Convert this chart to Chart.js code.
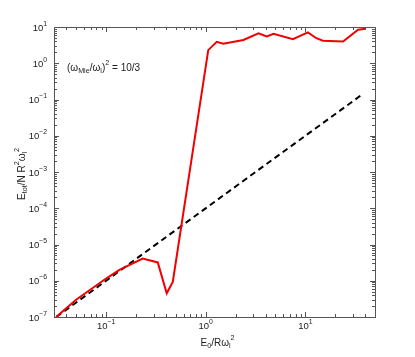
<!DOCTYPE html>
<html>
<head>
<meta charset="utf-8">
<script src="https://cdn.jsdelivr.net/npm/chart.js@4/dist/chart.umd.min.js"></script>
<style>
  body { margin: 0; background: #fff; }
  #wrap { width: 415px; height: 357px; }
</style>
</head>
<body>
<div id="wrap"><canvas id="c" width="415" height="357"></canvas></div>
<script>
// red curve: E0/R w^2 vs Etot
var red_x = [0.0315, 0.05, 0.1, 0.136, 0.233, 0.33, 0.406, 0.467, 1.06, 1.29, 1.50, 2.39, 3.38, 4.1, 4.8, 7.5, 10.6, 12.9, 15, 23.9, 33.8, 40.5];
var red_y = [1e-7, 3.0e-7, 1.15e-6, 2e-6, 4.1e-6, 3.2e-6, 4.5e-7, 9.3e-7, 2.3, 3.9, 3.47, 4.4, 6.7, 5.5, 6.5, 4.6, 7.1, 4.9, 4.2, 4.0, 8.4, 9.0];
// dashed reference line (end points)
var dash_x = [0.0316, 38];
var dash_y = [1e-7, 0.144];

var x_decades = [-1, 0, 1];
var y_decades = [1, 0, -1, -2, -3, -4, -5, -6, -7];

function pts(xs, ys){
    var out = [];
    for(var i = 0; i < xs.length; i++){
        out.push({x: xs[i], y: ys[i]});
    }
    return out;
}

var FONT = '"Liberation Sans", Arial, sans-serif';

// draw text with sub/superscripts, parts = [[text, 'n'|'b'|'p'], ...]
function richWidth(ctx, parts, size){
    var w = 0;
    parts.forEach(function(p){
        ctx.font = (p[1] == 'n' ? size : size * 0.72) + 'px ' + FONT;
        w += ctx.measureText(p[0]).width;
    });
    return w;
}
function richText(ctx, parts, x, y, size){
    var cx = x;
    parts.forEach(function(p){
        var off = 0, s = size;
        if(p[1] == 'b'){ s = size * 0.72; off = size * 0.3; }
        if(p[1] == 'p'){ s = size * 0.72; off = -size * 0.45; }
        ctx.font = s + 'px ' + FONT;
        ctx.textBaseline = 'middle';
        ctx.textAlign = 'left';
        ctx.fillText(p[0], cx, y + off);
        cx += ctx.measureText(p[0]).width;
    });
}

var framePlugin = {
    id: 'frame',
    afterDraw: function(chart){
        var ctx = chart.ctx;
        var a = chart.chartArea;
        var xs = chart.scales.x, ys = chart.scales.y;
        ctx.save();
        ctx.strokeStyle = '#555';
        ctx.fillStyle = '#222';
        ctx.lineWidth = 1;
        ctx.strokeRect(a.left + 0.5, a.top + 0.5, a.right - a.left, a.bottom - a.top);

        // ticks inward on all sides
        ctx.beginPath();
        for(var d = -2; d <= 1; d++){
            for(var m = 1; m <= 9; m++){
                var v = m * Math.pow(10, d);
                if(v < xs.min || v > xs.max) continue;
                var px = Math.round(xs.getPixelForValue(v)) + 0.5;
                var len = m == 1 ? 5 : 3;
                ctx.moveTo(px, a.bottom); ctx.lineTo(px, a.bottom - len);
                ctx.moveTo(px, a.top); ctx.lineTo(px, a.top + len);
            }
        }
        for(var d = -7; d <= 1; d++){
            for(var m = 1; m <= 9; m++){
                var v = m * Math.pow(10, d);
                if(v < ys.min * 0.999 || v > ys.max * 1.001) continue;
                var py = Math.round(ys.getPixelForValue(v)) + 0.5;
                var len = m == 1 ? 5 : 3;
                ctx.moveTo(a.left, py); ctx.lineTo(a.left + len, py);
                ctx.moveTo(a.right, py); ctx.lineTo(a.right - len, py);
            }
        }
        ctx.stroke();

        // tick labels
        var fs = 9.5;
        x_decades.forEach(function(d){
            var px = xs.getPixelForValue(Math.pow(10, d));
            var parts = [['10', 'n'], [String(d).replace('-', '\u2212'), 'p']];
            var w = richWidth(ctx, parts, fs);
            richText(ctx, parts, px - w / 2, a.bottom + 9, fs);
        });
        y_decades.forEach(function(d){
            var py = ys.getPixelForValue(Math.pow(10, d));
            var parts = [['10', 'n'], [String(d).replace('-', '\u2212'), 'p']];
            var w = richWidth(ctx, parts, fs);
            richText(ctx, parts, a.left - 7 - w, py + 1, fs);
        });

        // x title
        var xt = [['E', 'n'], ['0', 'b'], ['/R\u03c9', 'n'], ['l', 'b'], ['2', 'p']];
        var w = richWidth(ctx, xt, 10);
        richText(ctx, xt, (a.left + a.right) / 2 - w / 2 + 3, a.bottom + 26, 10);

        // y title
        ctx.save();
        ctx.translate(22, 174);
        ctx.rotate(-Math.PI / 2);
        var yt = [['E', 'n'], ['tot', 'b'], ['/N R', 'n'], ['2', 'p'], ['\u03c9', 'n'], ['l', 'b'], ['2', 'p']];
        w = richWidth(ctx, yt, 10);
        richText(ctx, yt, -w / 2, 0, 10);
        ctx.restore();

        // annotation
        var an = [['(\u03c9', 'n'], ['Mie', 'b'], ['/\u03c9', 'n'], ['l', 'b'], [')', 'n'], ['2', 'p'], [' = 10/3', 'n']];
        richText(ctx, an, 67, 68, 10);

        ctx.restore();
    }
};

new Chart(document.getElementById('c'), {
    type: 'line',
    data: {
        datasets: [{
            data: pts(red_x, red_y),
            borderColor: '#f00000',
            borderWidth: 2,
            pointRadius: 0,
            tension: 0
        }, {
            data: pts(dash_x, dash_y),
            borderColor: '#000',
            borderWidth: 2,
            borderDash: [6, 4],
            pointRadius: 0
        }]
    },
    options: {
        responsive: false,
        animation: false,
        layout: { padding: { left: 54, right: 40, top: 27, bottom: 40 } },
        plugins: { legend: { display: false }, tooltip: { enabled: false } },
        scales: {
            x: { type: 'logarithmic', min: 0.03, max: 50, display: false },
            y: { type: 'logarithmic', min: 1e-7, max: 10, display: false }
        }
    },
    plugins: [framePlugin]
});
</script>
</body>
</html>
